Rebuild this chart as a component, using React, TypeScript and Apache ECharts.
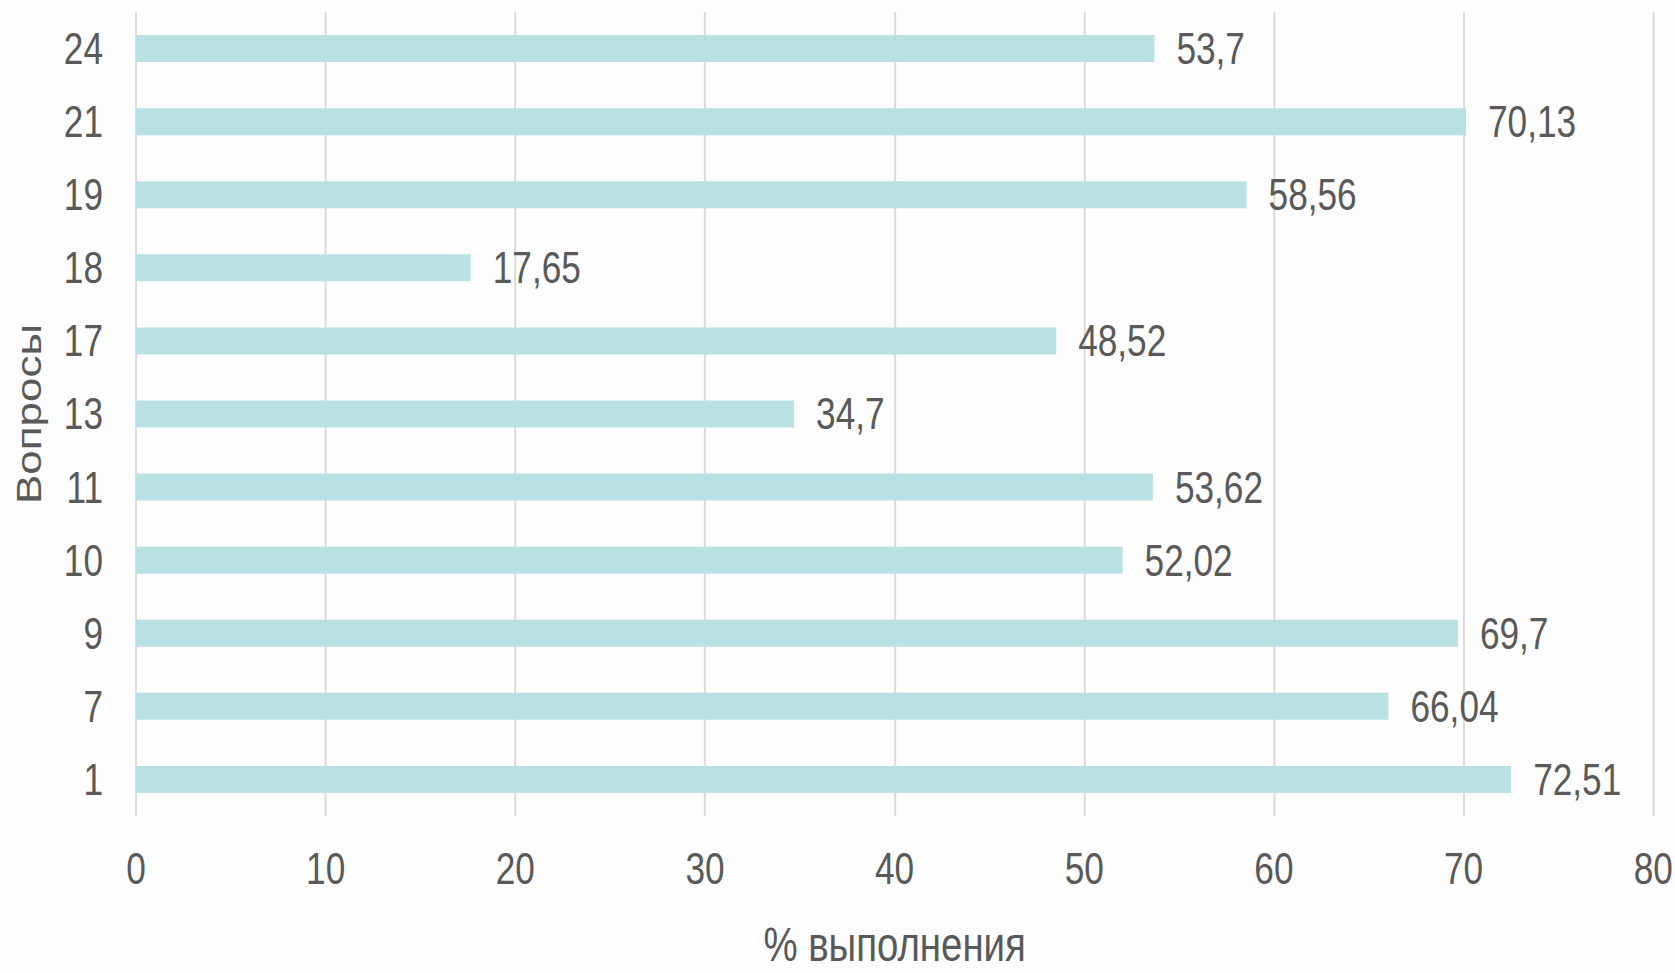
import React, { useEffect, useRef } from "react";
import * as echarts from "echarts";

const categories = ["1", "7", "9", "10", "11", "13", "17", "18", "19", "21", "24"];
const values = [72.51, 66.04, 69.7, 52.02, 53.62, 34.7, 48.52, 17.65, 58.56, 70.13, 53.7];
const xTicks = [0, 10, 20, 30, 40, 50, 60, 70, 80];
const xName = "% выполнения";
const yName = "Вопросы";

const FONT = "'Liberation Sans', Arial, sans-serif";
const TEXT = "#595959";
// horizontal condensation to mimic a narrow typeface
const S = 0.8;
const W = 1675;
const H = 973;

export default function App() {
  const ref = useRef<HTMLDivElement>(null);
  useEffect(() => {
    if (!ref.current) return;
    const chart = echarts.init(ref.current, undefined, { renderer: "svg" });
    chart.setOption({
      animation: false,
      backgroundColor: "#fdfdfd",
      grid: { left: 136 / S, right: 21 / S, top: 12, bottom: 147, containLabel: false },
      xAxis: {
        type: "value",
        min: xTicks[0],
        max: xTicks[xTicks.length - 1],
        interval: 10,
        name: xName,
        nameLocation: "middle",
        nameGap: 104,
        nameTextStyle: { fontFamily: FONT, fontSize: 48, color: TEXT },
        axisLine: { show: false },
        axisTick: { show: false },
        axisLabel: { fontFamily: FONT, fontSize: 44, color: TEXT, margin: 31 },
        splitLine: { show: true, lineStyle: { color: "#d9d9d9", width: 2.4 } },
      },
      yAxis: {
        type: "category",
        data: categories,
        name: yName,
        nameLocation: "middle",
        nameGap: 112,
        nameTextStyle: { fontFamily: FONT, fontSize: 44, color: TEXT },
        axisLine: { show: false },
        axisTick: { show: false },
        axisLabel: { fontFamily: FONT, fontSize: 44, color: TEXT, margin: 33 / S },
      },
      series: [
        {
          type: "bar",
          data: values,
          barWidth: 27,
          itemStyle: { color: "#b9e0e3" },
          label: {
            show: true,
            position: "right",
            distance: 22 / S,
            fontFamily: FONT,
            fontSize: 44,
            color: TEXT,
            formatter: (p: any) => String(p.value).replace(".", ","),
          },
        },
      ],
    });
    return () => chart.dispose();
  }, []);
  return (
    <div
      style={{
        position: "fixed",
        left: 0,
        top: 0,
        width: W,
        height: H,
        overflow: "hidden",
        background: "#fdfdfd",
      }}
    >
      <div
        ref={ref}
        style={{
          width: W / S,
          height: H,
          transform: `scaleX(${S})`,
          transformOrigin: "0 0",
        }}
      />
    </div>
  );
}
